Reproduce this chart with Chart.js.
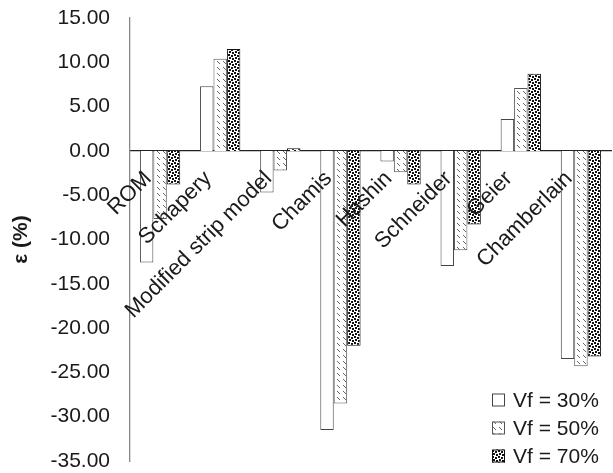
<!DOCTYPE html>
<html>
<head>
<meta charset="utf-8">
<script src="https://cdn.jsdelivr.net/npm/chart.js@4"></script>
<style>
  html, body { margin: 0; padding: 0; background: #fff; }
  #wrap { width: 613px; height: 473px; position: relative; }
</style>
</head>
<body>
<div id="wrap"><canvas id="c"></canvas></div>
<script>
// Relative error of each micromechanical model at three fibre volume fractions
const categories = ["ROM", "Schapery", "Modified strip model", "Chamis", "Hashin", "Schneider", "Geier", "Chamberlain"];
const vf30 = [-12.6, 7.3, -4.7, -31.5, -1.2, -13.0, 3.6, -23.5];
const vf50 = [-7.7, 10.4, -2.2, -28.5, -2.4, -11.2, 7.1, -24.3];
const vf70 = [-3.8, 11.5, 0.3, -22.0, -3.8, -8.3, 8.7, -23.2];
const seriesLabels = ["Vf = 30%", "Vf = 50%", "Vf = 70%"];
const yMin = -35, yMax = 15, yStep = 5;

const FONT = "'Liberation Sans', Arial, Helvetica, sans-serif";

// Fill textures for the bars
function hatchPattern() {
  const t = document.createElement('canvas');
  t.width = 6; t.height = 6;
  const g = t.getContext('2d');
  g.fillStyle = '#fff'; g.fillRect(0, 0, 6, 6);
  g.strokeStyle = '#666'; g.lineWidth = 1;
  g.beginPath(); g.moveTo(1, 1); g.lineTo(4, 4); g.stroke();
  return g.createPattern(t, 'repeat');
}
function dotPattern() {
  const t = document.createElement('canvas');
  t.width = 6; t.height = 6;
  const g = t.getContext('2d');
  g.fillStyle = '#fff'; g.fillRect(0, 0, 6, 6);
  g.fillStyle = '#111';
  [[0, 0], [3, 1], [1, 3], [4, 4]].forEach(([x, y]) => g.fillRect(x, y, 2, 2));
  return g.createPattern(t, 'repeat');
}

const fills = ['#ffffff', hatchPattern(), dotPattern()];
const borders = ['#444', '#555', '#111'];

// Legend in the lower-right corner of the plot
const cornerLegend = {
  id: 'cornerLegend',
  afterDraw(chart) {
    const ctx = chart.ctx;
    const area = chart.chartArea;
    const x0 = area.right - 119;
    const y0 = area.bottom - 61;
    const gap = 28;
    ctx.save();
    ctx.font = '21px ' + FONT;
    ctx.textBaseline = 'middle';
    ctx.textAlign = 'left';
    chart.data.datasets.forEach((ds, i) => {
      const y = y0 + i * gap;
      ctx.fillStyle = ds.backgroundColor;
      ctx.fillRect(x0, y - 6.5, 13, 13);
      ctx.strokeStyle = ds.borderColor;
      ctx.lineWidth = 1;
      ctx.strokeRect(x0 + 0.5, y - 6, 12, 12);
      ctx.fillStyle = '#1a1a1a';
      ctx.fillText(ds.label, x0 + 21, y + 1);
    });
    ctx.restore();
  }
};

new Chart(document.getElementById('c'), {
  type: 'bar',
  data: {
    labels: categories,
    datasets: [vf30, vf50, vf70].map((vals, i) => ({
      label: seriesLabels[i],
      data: vals,
      backgroundColor: fills[i],
      borderColor: borders[i],
      borderWidth: 1,
      categoryPercentage: 0.67,
      barPercentage: 1.0
    }))
  },
  options: {
    responsive: true,
    maintainAspectRatio: false,
    animation: false,
    layout: { padding: { top: 18, bottom: 12, right: 2, left: 0 } },
    plugins: {
      legend: { display: false },
      tooltip: { enabled: false }
    },
    scales: {
      x: {
        position: { y: 0 },
        grid: { display: false },
        border: { display: true, color: '#222', width: 1.3 },
        ticks: {
          z: 1,
          minRotation: 45,
          maxRotation: 45,
          autoSkip: false,
          labelOffset: -12,
          color: '#1a1a1a',
          padding: 7,
          font: { family: FONT, size: 22 }
        },
        afterFit(scale) {
          scale.paddingLeft = 0; scale.paddingRight = 0;
          scale.paddingTop = 0; scale.paddingBottom = 0;
        }
      },
      y: {
        min: yMin,
        max: yMax,
        grid: { display: false, drawTicks: false },
        border: { display: true, color: '#888', width: 1.3 },
        ticks: {
          stepSize: yStep,
          padding: 20,
          color: '#1a1a1a',
          font: { family: FONT, size: 21 },
          callback: v => Number(v).toFixed(2)
        },
        title: {
          display: true,
          text: 'ε (%)',
          color: '#1a1a1a',
          padding: { top: 9, bottom: 0 },
          font: { family: FONT, size: 21, weight: 'bold' }
        },
        afterFit(scale) {
          scale.width = 130;
          scale.paddingTop = 0; scale.paddingBottom = 0;
        }
      }
    }
  },
  plugins: [cornerLegend]
});
</script>
</body>
</html>
